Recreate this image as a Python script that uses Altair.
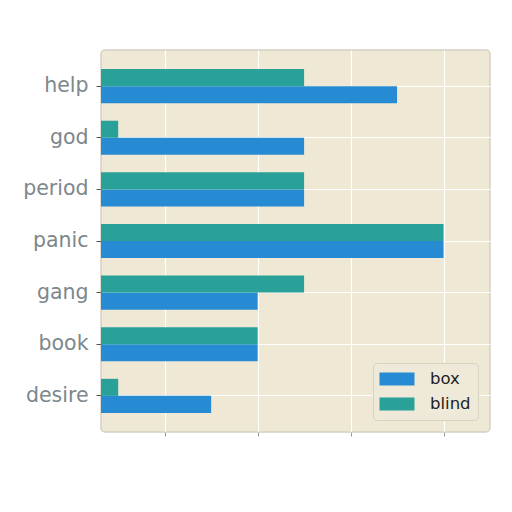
import altair as alt
import pandas as pd

categories = ["help", "god", "period", "panic", "gang", "book", "desire"]
box_values = [7, 5, 5, 8, 4, 4, 3]
blind_values = [5, 1, 5, 8, 5, 4, 1]
series = ["box", "blind"]
colors = ["#268bd2", "#2aa198"]

rows = []
for c, b, bl in zip(categories, box_values, blind_values):
    rows.append({"cat": c, "series": "box", "value": b})
    rows.append({"cat": c, "series": "blind", "value": bl})
df = pd.DataFrame(rows)

base = alt.Chart(df).mark_bar().encode(
    y=alt.Y("cat:N", sort=categories, title=None,
            scale=alt.Scale(paddingInner=0.34, paddingOuter=0.37),
            axis=alt.Axis(labelFontSize=20.5, labelColor="#7d878b", labelFont="DejaVu Sans",
                          tickColor="#555555", tickSize=5, labelPadding=8,
                          grid=True, gridColor="#ffffff", gridWidth=1.2,
                          bandPosition=0.5, domain=False)),
    yOffset=alt.YOffset("series:N", sort=["blind", "box"],
                        scale=alt.Scale(paddingInner=0, paddingOuter=0)),
    x=alt.X("value:Q", title=None,
            scale=alt.Scale(domain=[0.63, 9.0], clamp=True, zero=False, nice=False),
            axis=alt.Axis(values=[2, 4, 6, 8], labels=False, tickColor="#999999",
                          tickSize=4, grid=True, gridColor="#ffffff", gridWidth=1.2,
                          domain=False)),
    x2=alt.datum(0),
    color=alt.Color("series:N", sort=series,
                    scale=alt.Scale(domain=series, range=colors),
                    legend=alt.Legend(title=None, orient="none", legendX=272, legendY=313,
                                      labelFontSize=16.5, labelFont="DejaVu Sans",
                                      labelColor="#222222",
                                      symbolType="M-2,-0.74L2,-0.74L2,0.74L-2,0.74Z",
                                      symbolSize=306, symbolStrokeWidth=0,
                                      symbolOpacity=1, symbolOffset=8,
                                      fillColor="#efe9d9", strokeColor="#d8d2c2",
                                      cornerRadius=4, padding=7, rowPadding=7,
                                      labelOffset=24)),
)

chart = base.properties(
    width=389, height=382,
    background="#ffffff",
    autosize=alt.AutoSizeParams(type="none"),
    padding={"left": 93, "top": 42, "right": 5, "bottom": 60},
).configure_view(
    fill="#eee8d5", stroke="#d4d0c4", strokeWidth=1.5, cornerRadius=4
)

chart.save("out.html", embed_options={"renderer": "svg", "actions": False})
